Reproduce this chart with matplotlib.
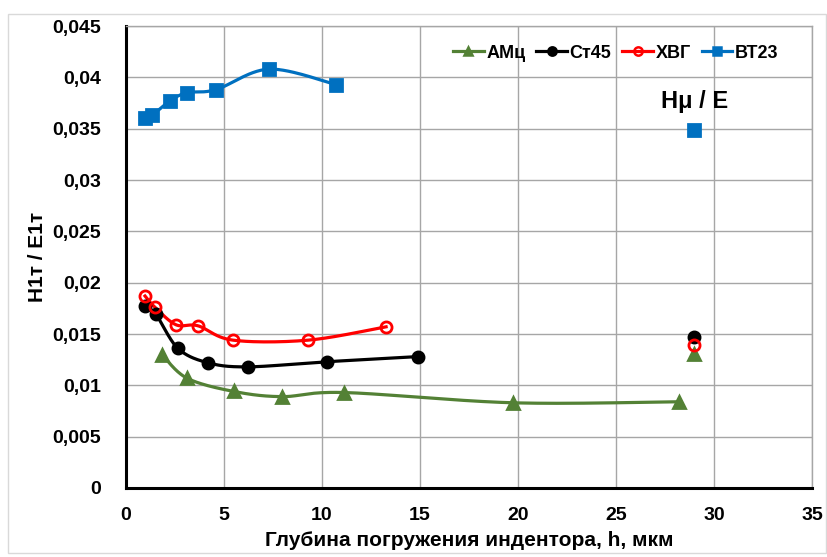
import numpy as np
import matplotlib.pyplot as plt

plt.rcParams['font.family'] = ['Liberation Sans', 'DejaVu Sans']
plt.rcParams['font.weight'] = 'bold'

# data
amc_x = [1.84, 3.11, 5.51, 7.96, 11.12, 19.74, 28.2]
amc_y = [0.0130, 0.0107, 0.0094, 0.0089, 0.0093, 0.0083, 0.0084]
st45_x = [0.97, 1.53, 2.65, 4.18, 6.22, 10.26, 14.9]
st45_y = [0.0177, 0.0169, 0.0136, 0.0122, 0.0118, 0.0123, 0.0128]
hvg_x = [0.97, 1.48, 2.55, 3.67, 5.46, 9.29, 13.27]
hvg_y = [0.0187, 0.0176, 0.0159, 0.0158, 0.0144, 0.0144, 0.0157]
vt23_x = [0.97, 1.33, 2.24, 3.11, 4.59, 7.30, 10.71]
vt23_y = [0.0360, 0.0363, 0.0377, 0.0385, 0.0388, 0.0408, 0.0393]

# single H/E values
he_x = 29
he_amc = 0.0131
he_st45 = 0.0147
he_hvg = 0.0139
he_vt23 = 0.0349


def smooth(x, y, n=30):
    # Catmull-Rom style smoothing like Excel's "smoothed line"
    x = np.asarray(x, float)
    y = np.asarray(y, float)
    px = np.concatenate([[x[0]], x, [x[-1]]])
    py = np.concatenate([[y[0]], y, [y[-1]]])
    xs, ys = [], []
    t = np.linspace(0, 1, n)
    for i in range(1, len(px) - 2):
        p0 = np.array([px[i], py[i]])
        p3 = np.array([px[i + 1], py[i + 1]])
        p1 = p0 + (np.array([px[i + 1], py[i + 1]]) - np.array([px[i - 1], py[i - 1]])) / 6
        p2 = p3 - (np.array([px[i + 2], py[i + 2]]) - np.array([px[i], py[i]])) / 6
        b = ((1 - t) ** 3)[:, None] * p0 + (3 * (1 - t) ** 2 * t)[:, None] * p1 \
            + (3 * (1 - t) * t ** 2)[:, None] * p2 + (t ** 3)[:, None] * p3
        xs.extend(b[:, 0])
        ys.extend(b[:, 1])
    return xs, ys


fig = plt.figure(figsize=(8.28, 5.57), dpi=100)
ax = fig.add_axes([126 / 828, 1 - 488 / 557, (812 - 126) / 828, (488 - 26) / 557])

series = [
    (amc_x, amc_y, he_amc, '#538135', '^', 'АМц', 9),
    (st45_x, st45_y, he_st45, 'black', 'o', 'Ст45', 8),
    (hvg_x, hvg_y, he_hvg, '#FF0000', 'o', 'ХВГ', 8),
    (vt23_x, vt23_y, he_vt23, '#0070C0', 's', 'ВТ23', 8),
]

handles = []
for xs, ys, he, col, mk, name, ms in series:
    sx, sy = smooth(xs, ys)
    ax.plot(sx, sy, color=col, lw=2.3, zorder=3)
    face = 'none' if name == 'ХВГ' else col
    ax.plot(xs, ys, ls='none', marker=mk, ms=ms, mfc=face, mec=col, mew=2, zorder=4)
    ax.plot([he_x], [he], ls='none', marker=mk, ms=ms, mfc=face, mec=col, mew=2, zorder=4)
    h, = ax.plot([], [], color=col, lw=2.3, marker=mk, ms=6, mfc=face, mec=col, mew=1.8)
    handles.append(h)

ax.text(he_x, 0.0376, 'Hμ / E', ha='center', va='center', fontsize=17, fontweight='bold')

ax.set_xlim(0, 35)
ax.set_ylim(0, 0.045)
ax.set_xticks(np.arange(0, 36, 5))
ax.set_yticks(np.arange(0, 0.0451, 0.005))
ax.set_yticklabels(['0', '0,005', '0,01', '0,015', '0,02', '0,025', '0,03', '0,035', '0,04', '0,045'])
ax.tick_params(axis='x', length=0, labelsize=14, pad=14)
ax.tick_params(axis='y', length=0, labelsize=14, pad=18)
for lab in ax.get_xticklabels() + ax.get_yticklabels():
    lab.set_fontweight('bold')
ax.grid(True, color='#A6A6A6', lw=1)
ax.set_axisbelow(True)
for side in ['top', 'right']:
    ax.spines[side].set_color('#A6A6A6')
    ax.spines[side].set_linewidth(1)
for side in ['left', 'bottom']:
    ax.spines[side].set_color('black')
    ax.spines[side].set_linewidth(2.2)

ax.set_xlabel('Глубина погружения индентора, h, мкм', fontsize=15, fontweight='bold', labelpad=5)
ax.set_ylabel('H1т / E1т', fontsize=15, fontweight='bold', labelpad=4)

ax.legend(handles, ['АМц', 'Ст45', 'ХВГ', 'ВТ23'], loc='upper right', ncol=4, frameon=False,
          prop={'weight': 'bold', 'size': 13}, handlelength=1.7, handletextpad=0.15,
          columnspacing=0.6, bbox_to_anchor=(0.975, 0.995))

fig.patches.append(plt.Rectangle((8 / 828, 4 / 557), 818 / 828, 539 / 557, transform=fig.transFigure,
                                 fill=False, edgecolor='#D9D9D9', lw=1))

fig.savefig('out.png', dpi=100)
